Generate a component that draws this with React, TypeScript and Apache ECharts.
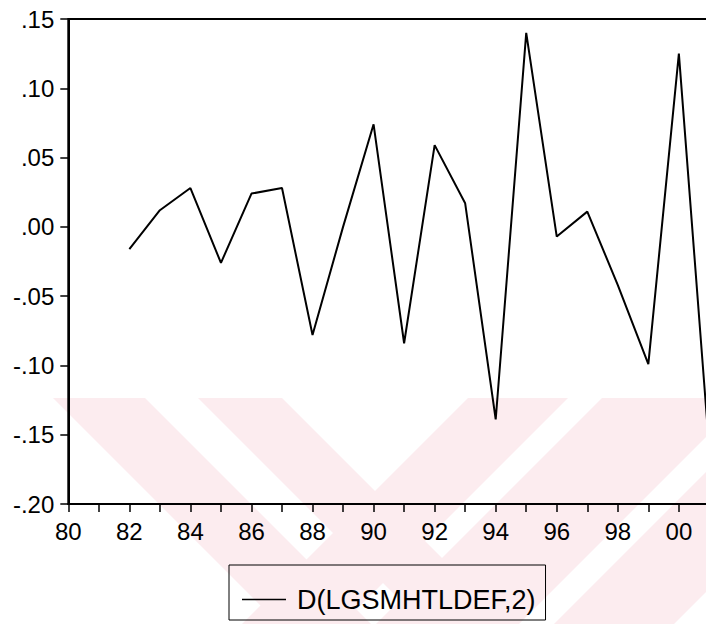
import React, { useEffect, useRef } from 'react';
import * as echarts from 'echarts';

// Observation years (annual) and the plotted series D(LGSMHTLDEF,2)
const years = [1982, 1983, 1984, 1985, 1986, 1987, 1988, 1989, 1990, 1991, 1992, 1993, 1994, 1995, 1996, 1997, 1998, 1999, 2000, 2001];
const values = [-0.016, 0.012, 0.028, -0.026, 0.024, 0.028, -0.078, 0.0, 0.074, -0.084, 0.059, 0.017, -0.139, 0.140, -0.007, 0.011, -0.042, -0.099, 0.125, -0.162];
const seriesName = 'D(LGSMHTLDEF,2)';

// Axis ranges
const xMin = 1980;
const xMax = 2001;
const yMin = -0.2;
const yMax = 0.15;
const yStep = 0.05;

const PINK = '#fcecef';

function band(x0: number, x1: number, dir: number) {
  // diagonal 45° band starting on the line y = 398
  const top = 398;
  const d = 300;
  return {
    type: 'polygon',
    z: -10,
    silent: true,
    shape: {
      points: [
        [x0, top],
        [x1, top],
        [x1 + dir * d, top + d],
        [x0 + dir * d, top + d],
      ],
    },
    style: { fill: PINK },
  };
}

export default function App() {
  const ref = useRef<HTMLDivElement>(null);
  useEffect(() => {
    if (!ref.current) return;
    const chart = echarts.init(ref.current, null, { renderer: 'svg' });
    const data = years.map((y, i) => [y, values[i]]);
    chart.setOption({
      animation: false,
      backgroundColor: '#ffffff',
      textStyle: { fontFamily: 'Liberation Sans, Arial, sans-serif' },
      graphic: [
        band(53, 145, 1),
        band(198, 282, 1),
        band(468, 568, -1),
        band(602, 745, -1),
        band(780, 900, -1),
      ],
      grid: {
        left: 68.3,
        top: 19,
        width: 641.1,
        height: 485,
        outerBoundsMode: 'none',
        containLabel: false,
        show: true,
        borderColor: '#000',
        borderWidth: 2,
        backgroundColor: 'transparent',
      },
      legend: {
        show: true,
        left: 229,
        top: 565,
        orient: 'horizontal',
        padding: [21, 10, 7, 13],
        borderColor: '#000',
        borderWidth: 1,
        backgroundColor: 'transparent',
        icon: 'rect',
        itemWidth: 44,
        itemHeight: 1.5,
        itemStyle: { color: '#000' },
        textStyle: {
          fontSize: 27,
          color: '#000',
          fontFamily: 'Liberation Sans, Arial, sans-serif',
          padding: [0, 0, 0, 6],
        },
        data: [seriesName],
      },
      xAxis: {
        type: 'value',
        min: xMin,
        max: xMax,
        interval: 1,
        axisLine: { show: true, onZero: false, lineStyle: { color: '#000', width: 2 } },
        axisTick: { show: true, inside: false, length: 8, lineStyle: { color: '#000', width: 1.5 } },
        splitLine: { show: false },
        axisLabel: {
          margin: 15,
          fontSize: 24,
          color: '#000',
          fontFamily: 'Liberation Sans, Arial, sans-serif',
          showMaxLabel: false,
          formatter: (v: number) => (Math.round(v) % 2 === 0 ? String(Math.round(v)).slice(2) : ''),
        },
      },
      yAxis: {
        type: 'value',
        min: yMin,
        max: yMax,
        interval: yStep,
        axisLine: { show: true, lineStyle: { color: '#000', width: 2 } },
        axisTick: { show: true, inside: false, length: 8, lineStyle: { color: '#000', width: 1.5 } },
        splitLine: { show: false },
        axisLabel: {
          margin: 14,
          fontSize: 24,
          color: '#000',
          fontFamily: 'Liberation Sans, Arial, sans-serif',
          formatter: (v: number) => {
            const s = (Math.round(v * 100) / 100).toFixed(2);
            return s.replace('0.', '.');
          },
        },
      },
      series: [
        {
          name: seriesName,
          type: 'line',
          data,
          symbol: 'none',
          showSymbol: false,
          clip: true,
          lineStyle: { color: '#000', width: 2 },
          itemStyle: { color: '#000' },
        },
      ],
    });
    return () => chart.dispose();
  }, []);
  return (
    <div
      ref={ref}
      style={{ position: 'absolute', left: 0, top: 0, width: 706, height: 624 }}
    />
  );
}
